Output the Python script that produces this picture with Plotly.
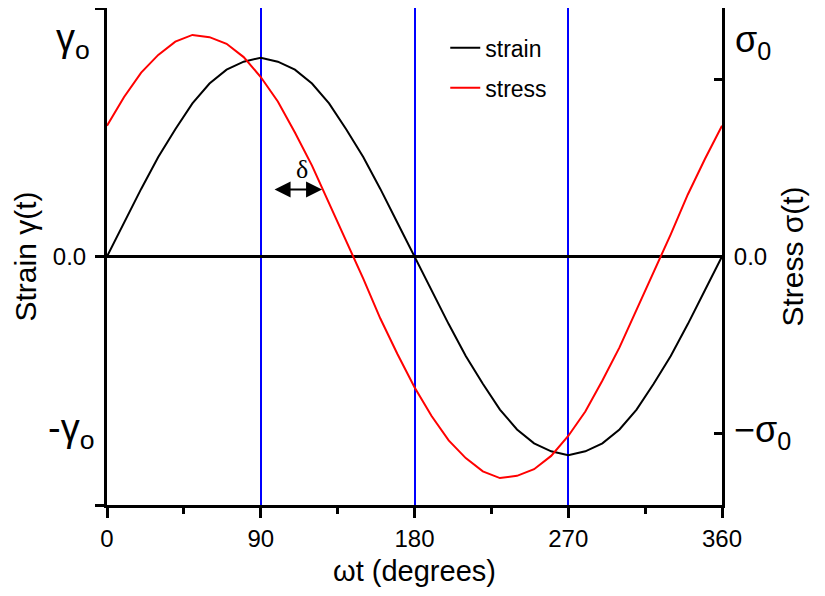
import plotly.graph_objects as go

# ---- data ----
angle_deg = [0, 10, 20, 30, 40, 50, 60, 70, 80, 90, 100, 110, 120, 130, 140, 150, 160, 170, 180,
             190, 200, 210, 220, 230, 240, 250, 260, 270, 280, 290, 300, 310, 320, 330, 340, 350, 360]
strain = [0.00, 0.17, 0.34, 0.50, 0.64, 0.77, 0.87, 0.94, 0.98, 1.00, 0.98, 0.94, 0.87, 0.77, 0.64, 0.50,
          0.34, 0.17, 0.00, -0.17, -0.34, -0.50, -0.64, -0.77, -0.87, -0.94, -0.98, -1.00, -0.98, -0.94,
          -0.87, -0.77, -0.64, -0.50, -0.34, -0.17, 0.00]
stress = [0.59, 0.72, 0.83, 0.91, 0.97, 1.00, 0.99, 0.96, 0.90, 0.81, 0.70, 0.56, 0.41, 0.24, 0.07, -0.10,
          -0.28, -0.44, -0.59, -0.72, -0.83, -0.91, -0.97, -1.00, -0.99, -0.96, -0.90, -0.81, -0.70, -0.56,
          -0.41, -0.24, -0.07, 0.10, 0.28, 0.44, 0.59]
x_ticks = [0, 90, 180, 270, 360]
x_tick_labels = ["0", "90", "180", "270", "360"]
strain_ticks = [-1.25, 0, 1.25]
strain_tick_labels = ["", "0.0", ""]
stress_ticks = [-0.8, 0, 0.8]
stress_tick_labels = ["", "0.0", ""]

FONT = "Liberation Sans, Arial, sans-serif"

fig = go.Figure()
fig.add_trace(go.Scatter(x=angle_deg, y=strain, mode="lines", name="strain", legendgroup="a",
                         line=dict(color="black", width=2), yaxis="y"))
fig.add_trace(go.Scatter(x=angle_deg, y=stress, mode="lines", name="stress", legendgroup="b",
                         line=dict(color="#ff0000", width=2), yaxis="y2"))

fig.update_layout(
    width=825, height=596,
    margin=dict(l=99, r=111, t=0, b=99),
    paper_bgcolor="white", plot_bgcolor="white",
    font=dict(family=FONT, size=24, color="black"),
    showlegend=True,
    legend=dict(x=0.55, y=0.963, xanchor="left", yanchor="top", traceorder="grouped",
                bgcolor="rgba(0,0,0,0)", font=dict(size=23), tracegroupgap=7),
    xaxis=dict(range=[0, 360], tickvals=x_ticks, ticktext=x_tick_labels,
               tickfont=dict(size=24),
               showline=True, linecolor="black", linewidth=3,
               ticks="outside", ticklen=10, tickwidth=2.5, tickcolor="black",
               showgrid=True, gridcolor="#0000ff", gridwidth=2,
               zeroline=False,
               minor=dict(dtick=45, ticks="outside", ticklen=6, tickwidth=2.5,
                          tickcolor="black", showgrid=False),
               title=dict(text="ωt (degrees)", font=dict(size=29), standoff=10)),
    yaxis=dict(range=[-1.25, 1.25], tickvals=strain_ticks, ticktext=strain_tick_labels,
               tickfont=dict(size=24), ticklabelstandoff=4,
               showline=True, linecolor="black", linewidth=3,
               ticks="outside", ticklen=9, tickwidth=2.5, tickcolor="black",
               showgrid=False, zeroline=True, zerolinecolor="black", zerolinewidth=3,
               title=dict(text="Strain γ(t)", font=dict(size=30), standoff=8)),
    yaxis2=dict(range=[-1.1216, 1.1216], overlaying="y", side="right",
                tickvals=stress_ticks, ticktext=stress_tick_labels,
                tickfont=dict(size=24), ticklabelstandoff=4,
                showline=True, linecolor="black", linewidth=3,
                ticks="inside", ticklen=8, tickwidth=2.5, tickcolor="black",
                showgrid=False, zeroline=False,
                title=dict(text="Stress σ(t)", font=dict(size=30), standoff=16)),
)

# Greek amplitude labels
fig.add_annotation(text="γ<sub>o</sub>", xref="paper", yref="y", x=-0.024, y=1.086,
                   xanchor="right", yanchor="middle", showarrow=False, font=dict(size=38))
fig.add_annotation(text="-γ<sub>o</sub>", xref="paper", yref="y", x=-0.018, y=-0.88,
                   xanchor="right", yanchor="middle", showarrow=False, font=dict(size=38))
fig.add_annotation(text="σ<sub>0</sub>", xref="paper", yref="y2", x=1.018, y=0.966,
                   xanchor="left", yanchor="middle", showarrow=False, font=dict(size=36))
fig.add_annotation(text="−σ<sub>0</sub>", xref="paper", yref="y2", x=1.016, y=-0.79,
                   xanchor="left", yanchor="middle", showarrow=False, font=dict(size=36))

# phase-lag delta
fig.add_annotation(text="δ", xref="x", yref="y", x=114, y=0.438, showarrow=False,
                   font=dict(size=26, family="Liberation Serif, serif"))
fig.add_annotation(text="", xref="x", yref="y", axref="x", ayref="y",
                   x=125.9, y=0.337, ax=97.2, ay=0.337, showarrow=True,
                   arrowhead=2, startarrowhead=2, arrowside="end+start",
                   arrowwidth=2, arrowsize=1.6, startarrowsize=1.6, arrowcolor="black")

fig.write_html("out.html")
